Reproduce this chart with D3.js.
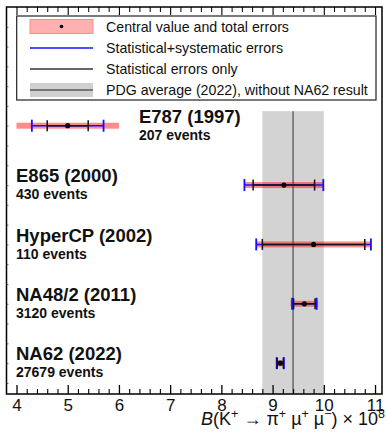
<!DOCTYPE html>
<html>
<head>
<meta charset="utf-8">
<script src="https://cdn.jsdelivr.net/npm/d3@7"></script>
<style>
  html, body { margin: 0; padding: 0; background: #fff; }
  svg { display: block; font-family: "Liberation Sans", Arial, sans-serif; }
</style>
</head>
<body>
<svg id="chart" width="386" height="436"></svg>
<script>
// Measurements of B(K+ -> pi+ mu+ mu-) x 10^8
const experiments = ["E787 (1997)", "E865 (2000)", "HyperCP (2002)", "NA48/2 (2011)", "NA62 (2022)"];
const eventCounts = [207, 430, 110, 3120, 27679];
const centralValues = [5.0, 9.22, 9.8, 9.62, 9.15];
const statErrors = [0.4, 0.6, 1.0, 0.21, 0.06];
const statSystErrors = [0.7, 0.77, 1.12, 0.24, 0.07];
const totalErrors = [1.0, 0.77, 1.12, 0.27, 0.08];

// PDG 2022 average (without NA62)
const pdgValue = [9.4];
const pdgError = [0.6];

const xTicks = [4, 5, 6, 7, 8, 9, 10, 11];
const legendLabels = [
  "Central value and total errors",
  "Statistical+systematic errors",
  "Statistical errors only",
  "PDG average (2022), without NA62 result"
];

const svg = d3.select("#chart");
const frame = { left: 6.5, right: 382, top: 7, bottom: 394 };

const x = d3.scaleLinear().domain([3.805, 11.136]).range([frame.left, frame.right]);
// rows indexed 0..4 from top to bottom
const y = d3.scaleLinear().domain([-2, 4.52]).range([frame.top, frame.bottom]);

const rows = experiments.map((name, i) => ({
  name, i,
  events: eventCounts[i],
  c: centralValues[i],
  stat: statErrors[i],
  ss: statSystErrors[i],
  tot: totalErrors[i]
}));

// PDG band
svg.append("rect")
  .attr("x", x(pdgValue[0] - pdgError[0]))
  .attr("y", y(-0.245))
  .attr("width", x(pdgValue[0] + pdgError[0]) - x(pdgValue[0] - pdgError[0]))
  .attr("height", frame.bottom - y(-0.245))
  .attr("fill", "#d3d3d3");
svg.append("line")
  .attr("x1", x(pdgValue[0])).attr("x2", x(pdgValue[0]))
  .attr("y1", y(-0.245)).attr("y2", frame.bottom)
  .attr("stroke", "#666").attr("stroke-width", 1.5);

// Axes (bottom and mirrored top)
const minorTicks = d3.range(3.8, 11.15, 0.2).map(v => +v.toFixed(1)).filter(v => !xTicks.includes(v) && v >= x.domain()[0]);

const bottomAxis = d3.axisBottom(x).tickValues(xTicks).tickSizeInner(-9).tickSizeOuter(0).tickPadding(5)
  .tickFormat(d3.format("d"));
const gB = svg.append("g").attr("transform", `translate(0,${frame.bottom})`).call(bottomAxis);
gB.select(".domain").remove();
gB.selectAll(".tick line").attr("stroke", "#000").attr("stroke-width", 1.3);
gB.selectAll(".tick text").attr("font-size", 17).attr("fill", "#111")
  .attr("font-family", "'Liberation Sans', Arial, sans-serif");

const gBm = svg.append("g").attr("transform", `translate(0,${frame.bottom})`)
  .call(d3.axisBottom(x).tickValues(minorTicks).tickSizeInner(-5).tickSizeOuter(0).tickFormat(""));
gBm.select(".domain").remove();
gBm.selectAll(".tick line").attr("stroke", "#000").attr("stroke-width", 1.1);

const gT = svg.append("g").attr("transform", `translate(0,${frame.top})`)
  .call(d3.axisTop(x).tickValues(xTicks).tickSizeInner(-8).tickSizeOuter(0).tickFormat(""));
gT.select(".domain").remove();
gT.selectAll(".tick line").attr("stroke", "#000").attr("stroke-width", 1.1);
const gTm = svg.append("g").attr("transform", `translate(0,${frame.top})`)
  .call(d3.axisTop(x).tickValues(minorTicks).tickSizeInner(-5).tickSizeOuter(0).tickFormat(""));
gTm.select(".domain").remove();
gTm.selectAll(".tick line").attr("stroke", "#000").attr("stroke-width", 1);

// small ticks along the left edge
const gL = svg.append("g").attr("transform", `translate(${frame.left},0)`)
  .call(d3.axisRight(y).tickValues(d3.range(-5, 14).map(k => k / 3)).tickSizeInner(2).tickSizeOuter(0).tickFormat(""));
gL.select(".domain").remove();
gL.selectAll(".tick line").attr("stroke", "#555").attr("stroke-width", 0.8);

// Frame
svg.append("rect")
  .attr("x", frame.left).attr("y", frame.top)
  .attr("width", frame.right - frame.left).attr("height", frame.bottom - frame.top)
  .attr("fill", "none").attr("stroke", "#000").attr("stroke-width", 1.5);

// Measurements
const g = svg.append("g");
const rowG = g.selectAll("g.row").data(rows).join("g").attr("class", "row");

// total error band
rowG.append("rect")
  .attr("x", d => x(d.c - d.tot))
  .attr("y", d => y(d.i) - 3)
  .attr("width", d => x(d.c + d.tot) - x(d.c - d.tot))
  .attr("height", 6)
  .attr("fill", "#ff0000").attr("fill-opacity", 0.45);

// stat+syst errors (blue)
rowG.append("line")
  .attr("x1", d => x(d.c - d.ss)).attr("x2", d => x(d.c + d.ss))
  .attr("y1", d => y(d.i)).attr("y2", d => y(d.i))
  .attr("stroke", "#1010ff").attr("stroke-width", 1.5);
rowG.selectAll("line.bcap").data(d => [d.c - d.ss, d.c + d.ss].map(v => ({ v, i: d.i })))
  .join("line").attr("class", "bcap")
  .attr("x1", d => x(d.v)).attr("x2", d => x(d.v))
  .attr("y1", d => y(d.i) - 6).attr("y2", d => y(d.i) + 6)
  .attr("stroke", "#1010ff").attr("stroke-width", 1.8);

// stat errors (black)
rowG.append("line")
  .attr("x1", d => x(d.c - d.stat)).attr("x2", d => x(d.c + d.stat))
  .attr("y1", d => y(d.i)).attr("y2", d => y(d.i))
  .attr("stroke", "#111").attr("stroke-width", 1.5);
rowG.selectAll("line.scap").data(d => [d.c - d.stat, d.c + d.stat].map(v => ({ v, i: d.i })))
  .join("line").attr("class", "scap")
  .attr("x1", d => x(d.v)).attr("x2", d => x(d.v))
  .attr("y1", d => y(d.i) - 5.5).attr("y2", d => y(d.i) + 5.5)
  .attr("stroke", "#111").attr("stroke-width", 1.5);

// central value
rowG.append("circle")
  .attr("cx", d => x(d.c)).attr("cy", d => y(d.i)).attr("r", 2.6)
  .attr("fill", "#000");

// labels: placed after the bar when the bar sits at the far left
const labelX = d => (d.c - d.tot < 6.5 ? x(d.c + d.tot) + 20 : 16);
rowG.append("text")
  .attr("x", labelX).attr("y", d => y(d.i) - 2.8)
  .attr("font-size", 18.5).attr("font-weight", "bold").attr("fill", "#111")
  .text(d => d.name);
rowG.append("text")
  .attr("x", labelX).attr("y", d => y(d.i) + 14.2)
  .attr("font-size", 14).attr("font-weight", "bold").attr("fill", "#111")
  .text(d => `${d.events} events`);

// Axis title
const title = svg.append("text")
  .attr("x", 385).attr("y", 425).attr("text-anchor", "end")
  .attr("font-size", 18).attr("fill", "#111");
const parts = [
  { t: "B", style: "italic" },
  { t: "(K" },
  { t: "+", sup: true },
  { t: " \u2192 \u03c0" },
  { t: "+", sup: true },
  { t: " \u00b5" },
  { t: "+", sup: true },
  { t: " \u00b5" },
  { t: "\u2212", sup: true },
  { t: ") \u00d7 10" },
  { t: "8", sup: true }
];
let prevSup = false;
parts.forEach(p => {
  const ts = title.append("tspan").text(p.t);
  if (p.style) ts.attr("font-style", p.style);
  if (p.sup) { ts.attr("font-size", 12.5).attr("dy", prevSup ? 0 : -7); }
  else if (prevSup) { ts.attr("dy", 7); }
  prevSup = !!p.sup;
});

// Legend
const leg = svg.append("g");
leg.append("rect")
  .attr("x", 16.7).attr("y", 16).attr("width", 376 - 16.7).attr("height", 84)
  .attr("fill", "#fff").attr("stroke", "#222").attr("stroke-width", 1.2);
const legY = [26.5, 48, 69, 90];
const sx0 = 30, sx1 = 93;
// central value + total errors
leg.append("rect").attr("x", sx0).attr("y", legY[0] - 7).attr("width", sx1 - sx0).attr("height", 14)
  .attr("fill", "#ffb0b0").attr("stroke", "#ff8c8c").attr("stroke-width", 1);
leg.append("circle").attr("cx", (sx0 + sx1) / 2).attr("cy", legY[0]).attr("r", 1.8).attr("fill", "#000");
// stat+syst
leg.append("line").attr("x1", sx0).attr("x2", sx1).attr("y1", legY[1]).attr("y2", legY[1])
  .attr("stroke", "#4d4dff").attr("stroke-width", 2);
// stat only
leg.append("line").attr("x1", sx0).attr("x2", sx1).attr("y1", legY[2]).attr("y2", legY[2])
  .attr("stroke", "#666").attr("stroke-width", 2);
// PDG
leg.append("rect").attr("x", sx0).attr("y", legY[3] - 7).attr("width", sx1 - sx0).attr("height", 14)
  .attr("fill", "#d0d0d0");
leg.append("line").attr("x1", sx0).attr("x2", sx1).attr("y1", legY[3]).attr("y2", legY[3])
  .attr("stroke", "#777").attr("stroke-width", 2);

leg.selectAll("text.lt").data(legendLabels).join("text").attr("class", "lt")
  .attr("x", 106).attr("y", (d, i) => legY[i] + 5)
  .attr("font-size", 14.2).attr("fill", "#111")
  .text(d => d);
</script>
</body>
</html>
